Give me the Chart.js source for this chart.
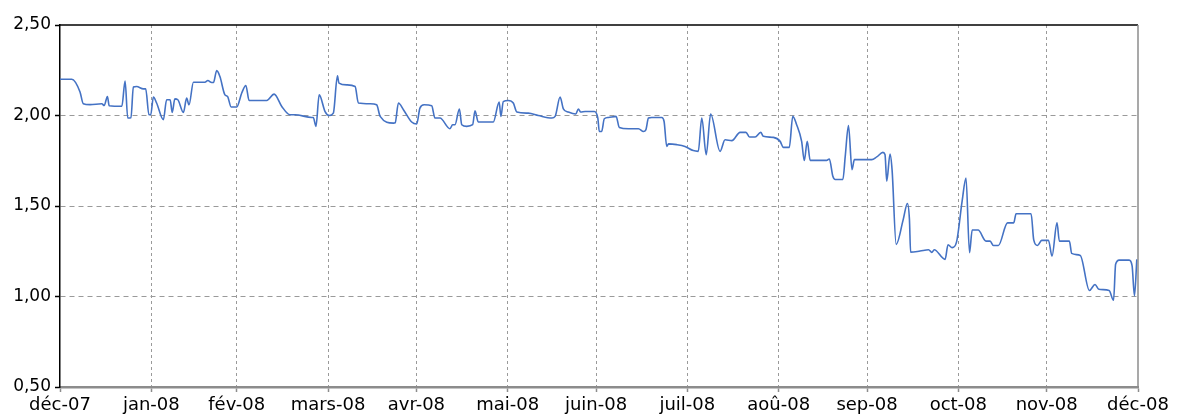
<!DOCTYPE html>
<html>
<head>
<meta charset="utf-8">
<style>
  html, body { margin: 0; padding: 0; background: #fff; }
</style>
</head>
<body>
<canvas id="myChart" width="1185" height="416"></canvas>

<script src="https://cdn.jsdelivr.net/npm/chart.js"></script>
<script>
    // month boundaries (days from start) and their labels
    var monthDays = [0, 31, 60, 91, 121, 152, 182, 213, 244, 274, 305, 335, 366];
    var monthLabels = ['déc-07', 'jan-08', 'fév-08', 'mars-08', 'avr-08', 'mai-08', 'juin-08',
                       'juil-08', 'aoû-08', 'sep-08', 'oct-08', 'nov-08', 'déc-08'];
    var yTickValues = [0.5, 1.0, 1.5, 2.0, 2.5];

    // series: day offset + value
    var dayOffsets = [
        0, 4, 6.8, 7.9, 10.2, 14.2, 15.0, 16.1, 16.7, 21.0, 22.1, 23.0, 24.1, 24.9, 26.0, 28.3, 29.1, 30.2, 30.8, 31.7,
        32.8, 35.1, 36.2, 37.4, 38.1, 39.0, 40.0, 41.9, 43.0, 43.8, 45.3, 49.2, 50.2, 51.5, 52.1, 53.2, 54.3, 56.0, 56.9, 58.1,
        60.0, 61.7, 63.1, 64.2, 70.2,
        72.7, 75.3, 78.1, 79.8, 85.5, 86.0, 86.9, 88.0, 90.0, 91.4, 92.8, 94.2, 94.7, 97.4, 100.2, 101.3, 105.3, 107.5, 108.7, 113.2,
        113.8, 114.9, 116.6, 119.4, 121.1, 122.2, 123.6, 126.2, 127.3, 129.0, 132.4, 133.3, 134.1, 135.6, 136.4, 138.1, 140.1, 140.9, 142.0, 146.0,
        147.1, 149.1, 149.7, 150.5, 152.2, 153.9, 155.1, 159.0, 162.4, 167.0, 168.1, 169.8, 170.9, 172.6, 175.1, 176.0, 176.8, 178.3, 181.4, 182.6,
        183.1, 183.9, 184.8, 186.2, 188.8, 189.9, 193.0, 196.4, 198.1, 198.9, 199.8, 200.9, 204.3, 205.1, 206.0, 206.6, 209.4, 212.2, 215.0, 216.7,
        217.9, 219.4, 220.9, 224.1, 225.8, 228.1, 230.9, 232.9, 234.1, 236.0, 237.9, 238.8, 242.2, 244.5, 245.6, 247.6, 248.8, 250.1, 251.8, 252.7,
        253.7, 254.7, 260.3, 261.2, 262.4, 263.2, 265.8, 266.6, 267.7, 268.9, 269.7, 275.6, 277.3, 279.4, 280.1, 280.7, 281.8, 282.5, 283.9, 286.3,
        287.7, 288.4, 288.8, 292.0, 294.9, 296.0, 296.8, 300.5, 301.5, 302.9, 304.4, 306.3, 307.6, 308.8, 309.7, 311.7, 314.4, 315.8, 316.9, 318.6,
        321.7, 323.8, 324.6, 329.7, 330.6, 331.9, 333.3, 335.6, 336.8, 338.5, 339.3, 342.7, 343.5, 346.4, 349.5, 351.4, 352.7, 356.2, 357.7, 358.4,
        359.6, 363.0, 364.0, 364.8, 365.6
    ];
    var values = [
        2.20, 2.20, 2.13, 2.065, 2.06, 2.065, 2.055, 2.105, 2.054, 2.051, 2.19, 1.986, 1.988, 2.157, 2.16, 2.147, 2.147, 2.004, 2.004, 2.102,
        2.069, 1.977, 2.087, 2.087, 2.017, 2.092, 2.087, 2.017, 2.096, 2.059, 2.184, 2.184, 2.193, 2.182, 2.182, 2.248, 2.215, 2.114, 2.105, 2.047,
        2.047, 2.124, 2.166, 2.083, 2.083,
        2.118, 2.05, 2.004, 2.004, 1.989, 1.989, 1.94, 2.114, 2.022, 2.0, 2.013, 2.219, 2.179, 2.169, 2.16, 2.069, 2.065, 2.059, 1.995, 1.958,
        1.96, 2.069, 2.032, 1.964, 1.953, 2.041, 2.059, 2.054, 1.986, 1.986, 1.927, 1.949, 1.949, 2.036, 1.949, 1.94, 1.949, 2.026, 1.964, 1.964,
        1.964, 2.074, 1.995, 2.077, 2.083, 2.069, 2.019, 2.013, 2.0, 1.986, 1.995, 2.102, 2.037, 2.019, 2.008, 2.036, 2.019, 2.022, 2.022, 1.986,
        1.912, 1.912, 1.982, 1.989, 1.995, 1.934, 1.927, 1.927, 1.912, 1.921, 1.986, 1.989, 1.989, 1.967, 1.829, 1.843, 1.839, 1.829, 1.806, 1.802,
        1.986, 1.784, 2.008, 1.802, 1.866, 1.861, 1.907, 1.907, 1.881, 1.881, 1.907, 1.885, 1.879, 1.857, 1.824, 1.824, 1.995, 1.949, 1.857, 1.751,
        1.857, 1.752, 1.752, 1.76, 1.664, 1.646, 1.646, 1.774, 1.944, 1.701, 1.756, 1.756, 1.771, 1.796, 1.784, 1.637, 1.787, 1.701, 1.288, 1.426,
        1.514, 1.426, 1.245, 1.251, 1.258, 1.244, 1.258, 1.205, 1.286, 1.27, 1.302, 1.528, 1.655, 1.242, 1.367, 1.367, 1.306, 1.306, 1.282, 1.282,
        1.407, 1.407, 1.457, 1.457, 1.313, 1.282, 1.31, 1.311, 1.223, 1.407, 1.306, 1.306, 1.238, 1.227, 1.033, 1.066, 1.04, 1.033, 0.979, 1.178,
        1.201, 1.201, 1.169, 1.004, 1.205
    ];

    var points = dayOffsets.map(function(d, i) { return { x: d, y: values[i] }; });

    // top (black) and right (grey) frame lines
    var framePlugin = {
        id: 'frame',
        afterDraw: function(chart) {
            var a = chart.chartArea, ctx = chart.ctx;
            ctx.save();
            ctx.lineWidth = 1.5;
            ctx.strokeStyle = '#000';
            ctx.beginPath();
            ctx.moveTo(a.left, a.top);
            ctx.lineTo(a.right, a.top);
            ctx.stroke();
            ctx.strokeStyle = '#8c8c8c';
            ctx.beginPath();
            ctx.moveTo(a.right, a.top);
            ctx.lineTo(a.right, a.bottom);
            ctx.stroke();
            ctx.restore();
        }
    };

    var ctx = document.getElementById('myChart').getContext('2d');
    new Chart(ctx, {
        type: 'line',
        data: {
            datasets: [{
                data: points,
                borderColor: '#4472C4',
                borderWidth: 1.6,
                pointRadius: 0,
                fill: false,
                cubicInterpolationMode: 'monotone'
            }]
        },
        options: {
            responsive: false,
            animation: false,
            layout: { padding: { top: 25, right: 47, left: 0, bottom: 0 } },
            plugins: { legend: { display: false }, tooltip: { enabled: false } },
            scales: {
                x: {
                    type: 'linear',
                    min: 0,
                    max: 366,
                    afterBuildTicks: function(scale) {
                        scale.ticks = monthDays.map(function(v) { return { value: v }; });
                    },
                    afterFit: function(scale) { scale.height = 29; },
                    ticks: {
                        autoSkip: false,
                        maxRotation: 0,
                        minRotation: 0,
                        padding: 3,
                        color: '#000',
                        font: { family: 'DejaVu Sans', size: 18 },
                        callback: function(value) {
                            var i = monthDays.indexOf(value);
                            return i >= 0 ? monthLabels[i] : '';
                        }
                    },
                    grid: {
                        color: function(c) {
                            return (c.index === 0 || c.index === monthDays.length - 1) ? 'rgba(0,0,0,0)' : '#9a9a9a';
                        },
                        lineWidth: 1,
                        tickLength: 5,
                        tickColor: '#8c8c8c',
                        tickWidth: 1.5,
                        tickBorderDash: []
                    },
                    border: { color: '#8c8c8c', width: 2.5, dash: [3, 3] }
                },
                y: {
                    min: 0.5,
                    max: 2.5,
                    afterBuildTicks: function(scale) {
                        scale.ticks = yTickValues.map(function(v) { return { value: v }; });
                    },
                    afterFit: function(scale) { scale.width = 60; },
                    ticks: {
                        padding: 4,
                        color: '#000',
                        font: { family: 'DejaVu Sans', size: 17 },
                        callback: function(value) { return value.toFixed(2).replace('.', ','); }
                    },
                    grid: {
                        color: function(c) {
                            return (c.index === 0 || c.index === yTickValues.length - 1) ? 'rgba(0,0,0,0)' : '#9a9a9a';
                        },
                        lineWidth: 1,
                        tickLength: 5,
                        tickColor: '#000',
                        tickWidth: 1.5,
                        tickBorderDash: []
                    },
                    border: { color: '#000', width: 1.5, dash: [5, 4] }
                }
            }
        },
        plugins: [framePlugin]
    });
</script>
</body>
</html>
